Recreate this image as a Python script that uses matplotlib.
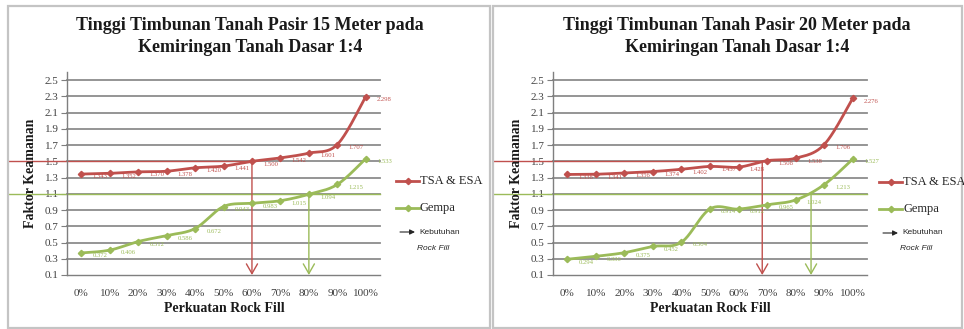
import numpy as np
import matplotlib
matplotlib.use("Agg")
import matplotlib.pyplot as plt
from matplotlib.patches import Rectangle, FancyArrowPatch
from matplotlib.lines import Line2D

# ---- data ----
categories = ["0%", "10%", "20%", "30%", "40%", "50%", "60%", "70%", "80%", "90%", "100%"]
y_ticks = [0.1, 0.3, 0.5, 0.7, 0.9, 1.1, 1.3, 1.5, 1.7, 1.9, 2.1, 2.3, 2.5]

tsa_15 = [1.343, 1.352, 1.370, 1.378, 1.420, 1.441, 1.500, 1.542, 1.601, 1.707, 2.298]
gempa_15 = [0.372, 0.406, 0.512, 0.586, 0.672, 0.943, 0.983, 1.015, 1.094, 1.215, 1.533]
tsa_20 = [1.338, 1.341, 1.356, 1.374, 1.402, 1.437, 1.428, 1.508, 1.538, 1.706, 2.276]
gempa_20 = [0.294, 0.330, 0.375, 0.452, 0.504, 0.914, 0.912, 0.965, 1.024, 1.213, 1.527]

# minimum safety factors and required rock-fill reinforcement (percent)
sf_tsa = 1.5
sf_gempa = 1.1
need_15 = {"tsa": 60.0, "gempa": 80.0}
need_20 = {"tsa": 68.3, "gempa": 85.4}

title_15 = ["Tinggi Timbunan Tanah Pasir 15 Meter pada", "Kemiringan Tanah Dasar 1:4"]
title_20 = ["Tinggi Timbunan Tanah Pasir 20 Meter pada", "Kemiringan Tanah Dasar 1:4"]

RED = "#c0504d"
GREEN = "#9bbb59"
GRID = "#8c8c8c"
SERIF = ["Liberation Serif", "DejaVu Serif"]
SANS = ["Liberation Sans", "DejaVu Sans"]

W, H = 964, 329
fig = plt.figure(figsize=(W / 100, H / 100), dpi=100)


def fx(x):
    return x / W


def fy(y):
    return 1 - y / H


def smooth(x, y, n=24):
    """Catmull-Rom curve through the points, like a smoothed spreadsheet line."""
    pts = np.column_stack([np.asarray(x, float), np.asarray(y, float)])
    out = []
    for i in range(len(pts) - 1):
        p0 = pts[i - 1] if i > 0 else pts[i]
        p1 = pts[i]
        p2 = pts[i + 1]
        p3 = pts[i + 2] if i + 2 < len(pts) else pts[i + 1]
        t = np.linspace(0, 1, n)[:, None]
        seg = 0.5 * ((2 * p1) + (-p0 + p2) * t + (2 * p0 - 5 * p1 + 4 * p2 - p3) * t ** 2
                     + (-p0 + 3 * p1 - 3 * p2 + p3) * t ** 3)
        out.append(seg if i == 0 else seg[1:])
    out = np.vstack(out)
    return out[:, 0], out[:, 1]


def panel(left_px, right_px, ax_left, ax_right, title, title_cx, ylab_x, xlab_cx,
          tsa, gempa, need, leg_x, leg_y):
    # panel frame
    fig.add_artist(Rectangle((fx(left_px), fy(328)), fx(right_px - left_px), (328 - 6) / H,
                             transform=fig.transFigure, fill=False,
                             edgecolor="#c4c4c4", lw=1.6))
    ax = fig.add_axes([fx(ax_left), fy(275), fx(ax_right - ax_left), (275 - 72) / H])
    ax.set_xlim(-0.5, 10.5)
    ax.set_ylim(0.1, 2.6)
    for s in ["top", "right"]:
        ax.spines[s].set_visible(False)
    for s in ["left", "bottom"]:
        ax.spines[s].set_color("#7f7f7f")
        ax.spines[s].set_linewidth(1.0)
    ax.set_facecolor("none")

    xs = np.arange(len(categories))
    for yv in y_ticks[1:]:
        ax.plot([-0.5, 10.5], [yv, yv], color=GRID, lw=1.3, zorder=1, clip_on=False)

    ax.set_yticks(y_ticks)
    ax.set_yticklabels([f"{v:.1f}" for v in y_ticks], fontfamily=SERIF, fontsize=8, color="#404040")
    ax.set_xticks(xs)
    ax.set_xticklabels(categories, fontfamily=SERIF, fontsize=8, color="#404040")
    ax.tick_params(axis="y", length=4, width=0.8, color="#7f7f7f", pad=2)
    ax.tick_params(axis="x", length=0, pad=10)

    # threshold lines, starting at the panel edge
    inv = ax.transData.inverted()
    x_edge = inv.transform(fig.transFigure.transform((fx(left_px + 1), 0)))[0]
    x_tsa = need["tsa"] / 10.0
    x_gem = need["gempa"] / 10.0
    ax.plot([x_edge, x_tsa], [sf_tsa, sf_tsa], color=RED, lw=1.0, zorder=2, clip_on=False)
    ax.plot([x_edge, 10.5], [sf_gempa, sf_gempa], color=GREEN, lw=1.0, zorder=2, clip_on=False)

    # series with value labels
    for vals, col in [(tsa, RED), (gempa, GREEN)]:
        sx, sy = smooth(xs, vals)
        ax.plot(sx, sy, color=col, lw=2.0, zorder=4, solid_capstyle="round")
        ax.plot(xs, vals, ls="none", marker="D", ms=3.2, color=col, zorder=5)
        for xi, v in zip(xs, vals):
            ax.annotate(f"{v:.3f}", (xi, v), xytext=(13.5, -2), textcoords="offset points",
                        ha="center", va="center", fontsize=4.8, color=col,
                        fontfamily=SERIF, zorder=6)

    # required reinforcement arrows
    for xv, yv, col in [(x_tsa, sf_tsa, RED), (x_gem, sf_gempa, GREEN)]:
        ax.add_patch(FancyArrowPatch((xv, yv), (xv, 0.1), arrowstyle="->,head_length=7,head_width=4",
                                     color=col, lw=1.0, zorder=3, shrinkA=0, shrinkB=0,
                                     clip_on=False))

    # titles and axis labels
    for line, ty in zip(title, [26, 47]):
        fig.text(fx(title_cx), fy(ty), line, ha="center", va="center", fontfamily=SERIF,
                 fontweight="bold", fontsize=13, color="#1a1a1a")
    fig.text(fx(ylab_x), fy(173), "Faktor Keamanan", rotation=90, ha="center", va="center",
             fontfamily=SERIF, fontweight="bold", fontsize=10, color="#1a1a1a")
    fig.text(fx(xlab_cx), fy(308), "Perkuatan Rock Fill", ha="center", va="center",
             fontfamily=SERIF, fontweight="bold", fontsize=10, color="#1a1a1a")

    # legend
    for i, (lab, col) in enumerate([("TSA & ESA", RED), ("Gempa", GREEN)]):
        yy = leg_y + i * 27
        fig.add_artist(Line2D([fx(leg_x), fx(leg_x + 23)], [fy(yy), fy(yy)], color=col, lw=2.0,
                              transform=fig.transFigure))
        fig.add_artist(Line2D([fx(leg_x + 11.5)], [fy(yy)], marker="D", ms=3.2, color=col,
                              transform=fig.transFigure))
        fig.text(fx(leg_x + 24), fy(yy), lab, ha="left", va="center", fontfamily=SERIF,
                 fontsize=9, color="#262626")
    ya = leg_y + 51
    fig.add_artist(FancyArrowPatch((fx(leg_x + 4), fy(ya)), (fx(leg_x + 19), fy(ya)),
                                   transform=fig.transFigure,
                                   arrowstyle="-|>,head_length=3,head_width=1.5",
                                   color="#262626", lw=0.8, shrinkA=0, shrinkB=0))
    fig.text(fx(leg_x + 23), fy(ya), "Kebutuhan", ha="left", va="center", fontfamily=SANS,
             fontsize=6, color="#262626")
    fig.text(fx(leg_x + 37), fy(ya + 16), "Rock Fill", ha="center", va="center", fontfamily=SANS,
             fontsize=6, style="italic", color="#262626")
    return ax


panel(8, 490, 67, 380, title_15, 250, 31, 224, tsa_15, gempa_15, need_15, 396, 181)
panel(493, 962, 553, 867, title_20, 737, 517, 710, tsa_20, gempa_20, need_20, 879, 182)

fig.savefig("out.png", dpi=100)
